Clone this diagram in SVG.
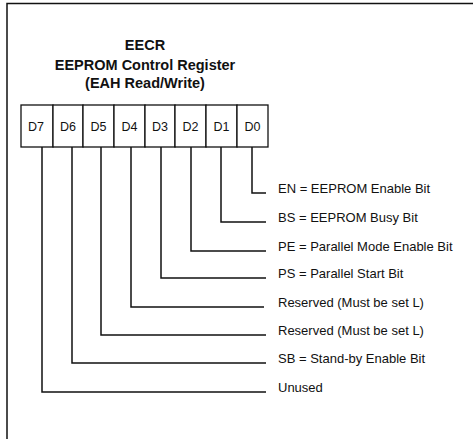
<svg xmlns="http://www.w3.org/2000/svg" width="473" height="439" viewBox="0 0 473 439">
<style>
text{font-family:"Liberation Sans",Arial,sans-serif;fill:#111}
.t{font-size:14.5px;font-weight:bold;text-anchor:middle}
.c{font-size:12.5px;text-anchor:middle}
.l{font-size:13px}
.ln{fill:none;stroke:#111;stroke-width:1.5}
.bx{fill:#fff;stroke:#111;stroke-width:1.3}
</style>
<rect width="473" height="439" fill="#fff"/>
<g id="frame"><path class="ln" d="M7 439V3.5H473"/></g>
<g id="title">
<text class="t" x="145" y="50">EECR</text>
<text class="t" x="145" y="70">EEPROM Control Register</text>
<text class="t" x="145" y="88">(EAH Read/Write)</text>
</g>
<g id="connectors">
<path class="ln" d="M252 147V193H266"/>
<path class="ln" d="M221 147V222H266"/>
<path class="ln" d="M191 147V251H266"/>
<path class="ln" d="M161 147V278H266"/>
<path class="ln" d="M131 147V307H264"/>
<path class="ln" d="M101 147V335H266"/>
<path class="ln" d="M72 147V363H266"/>
<path class="ln" d="M42 147V392H266"/>
</g>
<g id="register">
<g id="d7"><rect class="bx" x="21" y="105" width="32" height="42"/><text class="c" x="36" y="131">D7</text></g>
<g id="d6"><rect class="bx" x="53" y="105" width="30" height="42"/><text class="c" x="68" y="131">D6</text></g>
<g id="d5"><rect class="bx" x="83" y="105" width="31" height="42"/><text class="c" x="98.5" y="131">D5</text></g>
<g id="d4"><rect class="bx" x="114" y="105" width="31" height="42"/><text class="c" x="129.5" y="131">D4</text></g>
<g id="d3"><rect class="bx" x="145" y="105" width="30" height="42"/><text class="c" x="160" y="131">D3</text></g>
<g id="d2"><rect class="bx" x="175" y="105" width="31" height="42"/><text class="c" x="190.5" y="131">D2</text></g>
<g id="d1"><rect class="bx" x="206" y="105" width="31" height="42"/><text class="c" x="221.5" y="131">D1</text></g>
<g id="d0"><rect class="bx" x="237" y="105" width="31" height="42"/><text class="c" x="252.5" y="131">D0</text></g>
</g>
<g id="labels">
<text class="l" x="278" y="193">EN = EEPROM Enable Bit</text>
<text class="l" x="278" y="222">BS = EEPROM Busy Bit</text>
<text class="l" x="278" y="251">PE = Parallel Mode Enable Bit</text>
<text class="l" x="278" y="278">PS = Parallel Start Bit</text>
<text class="l" x="278" y="307">Reserved (Must be set L)</text>
<text class="l" x="278" y="335">Reserved (Must be set L)</text>
<text class="l" x="278" y="363">SB = Stand-by Enable Bit</text>
<text class="l" x="278" y="392">Unused</text>
</g>
</svg>
